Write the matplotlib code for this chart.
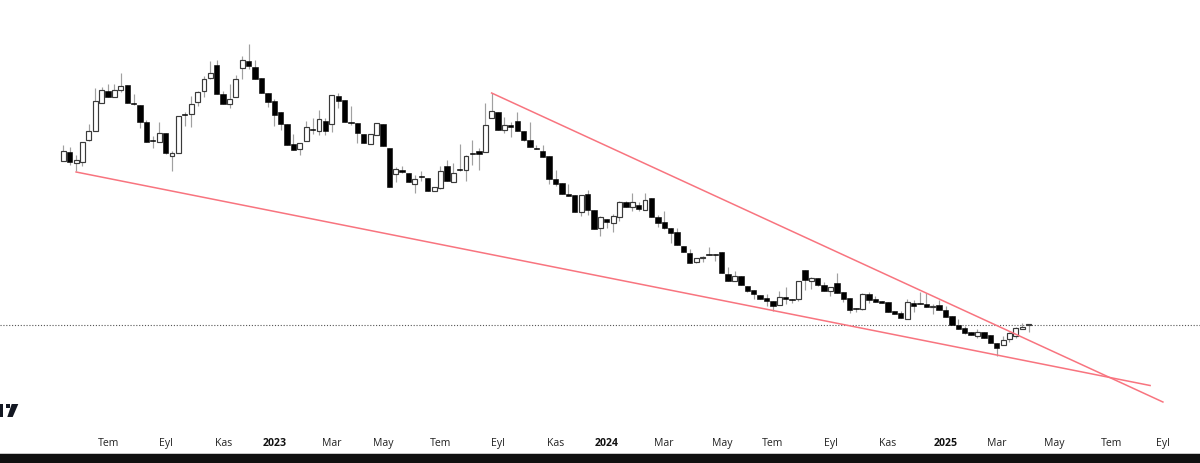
import matplotlib
matplotlib.use("Agg")
import matplotlib.pyplot as plt
from matplotlib.patches import Polygon, Rectangle, Circle
import numpy as np

opens = [301.7,310.7,299.7,300.7,322.7,331.7,360,372.3,366.3,372.7,378,360.3,358,341,323,321.3,329.7,307.3,309.7,349,
 349.3,360.7,372.3,385,398,368.7,359.3,365.7,394.7,402.3,396,385.3,369.7,361.7,351,339,318.7,313.7,321.7,334,
 332,342.3,339.3,366.7,363.3,341.3,340.3,329,319,328.3,339.3,315.3,288.7,293,290.3,279.3,287,285.3,272,275.3,
 297.3,281.3,294,292.7,310.3,312.3,311.3,345.3,351,332.7,338,342.3,331.7,323,315,311.7,307.3,283.7,280,268.7,
 268.3,250.7,268.7,253.3,234.7,244,240,246.3,260.7,256.3,258.3,253.3,264.7,246,241.3,235,230.7,217,210,200.7,
 204.7,208.7,208.7,210.7,189.3,181.7,187,177.3,172.7,167.7,164.7,161.7,157.7,165.7,163.7,164,193,181.7,184.7,178,
 172.3,180.3,171.3,164.7,154.7,153.7,168.7,164.3,162.3,161.3,152.3,149.7,144,160,160,159.3,155.7,157.7,153,147.3,
 138.3,135.5,131.3,127.3,131.5,127.7,119.7,118.3,124,127.3,134,138.3]
closes = [311.7,300.7,302.7,320.7,332.3,361.7,373,366.3,373,376.7,360,358.7,340.7,321.3,322,330,309.7,309.7,347.3,348,
 358.7,370.7,384.3,390.3,369.3,359.3,364.3,383.7,403,397.3,384.3,370,360.7,347.7,339.3,317.7,313.3,320,335.7,332.7,
 343.7,332,368,362,341.3,340.3,329.7,319.7,329.3,340.3,317,276.3,294.3,291.3,281.3,283.7,285.7,272,275.7,292.3,
 282,290,292.7,307.3,309.3,309.3,338,352.3,333.3,338,335.7,332,322.7,316.3,313.7,306,284,279,269,267,
 251.3,268,252.7,234,245.7,241.3,246.7,260.7,255.7,260.7,254,263.3,246.3,240.3,234.7,230,217.7,211.3,200.3,205.3,
 206.3,207.7,207.7,189.7,182.3,186.7,178,172,169,164,161.7,157.3,165.7,163.7,163.3,181.7,183.3,184.7,178.3,172.3,
 176.3,170,163.7,153,153.7,168.7,163.3,161.3,160.3,151.3,149,144.7,160.7,157,159,156.3,157,153,146,138.3,
 134,129.7,128,131.5,125.3,120.5,115.3,122.7,129.7,135,135.7,138.7]
highs = [318,316,308,321,339,375,376,379,379,390,378,369,358,343,327,341,330,312,347.3,351,
 367,372,387,402,403,372,379,388,407,419,403,385.3,370,364,351,339,329,320,342,345,
 353,345,368,370,363.3,357,340.3,329,329.3,340.3,339.3,315.3,296,297,290.3,288,292,285.3,275.7,297,
 303,300,319,308.3,323,315,360,370,351,346.3,341,350.7,332,341,318.3,318,307.3,293,280,279,
 268.3,268,273,253.3,247,244,249,262.3,262.3,269.7,261.3,269.7,264.7,248.3,251.7,235,234.7,217,213.7,205.3,
 207.3,216,209,210.7,195.7,192,187,177.3,173.3,167.7,169,162.3,172.3,175.7,164,182,193,185.7,185,181.3,
 176.3,189.7,171.3,164.7,155,170,170.7,166.7,162.3,161.3,152.3,152,164,163,170.7,170,159,163.3,157.3,147.3,
 144,137,131.3,134,131.5,127.7,119.7,126.7,131.3,135.7,139.7,139]
lows = [301.7,298,292,297,322,331.7,360,366,366,371,360,358,335,321,315,321,309,292,309.7,337,
 336,357,366,384,369,359,355,365.7,384,394,384,370,356,337,333,317.7,313,308,321.7,329,
 328,328,331,355,341.3,338,320,319.7,319,328.3,317,276.3,281,290,281.3,270,282,272,272,274,
 282,281.3,292,282.3,298,293.3,311.3,345,333.3,330,326.3,332,322,316,313.7,306,279,277,269,267,
 251,247.3,248,234,227.3,235.3,231,242.3,255.7,251.7,251.7,253.3,246.3,236,234,219.7,217.7,211.3,199.7,199.7,
 200.7,207.7,202.3,189.7,182.3,181.7,178,171,164,164,157.3,152.3,157.7,159,159.7,162,173.3,174,176.7,172.3,
 166.7,170,161.3,150.3,151.3,153,160,161.3,160.3,151.3,149,144.7,144,150.7,159,156.3,149,153,146,138.3,
 134,129,128,124.7,125.3,120.5,107.3,118.3,121.3,125,134,131.3]

tick_positions = [7,16,25,33,42,50,59,68,77,85,94,103,111,120,129,138,146,155,164,172]
tick_labels = ["Tem","Eyl","Kas","2023","Mar","May","Tem","Eyl","Kas","2024","Mar","May","Tem","Eyl","Kas","2025","Mar","May","Tem","Eyl"]
year_labels = {"2023","2024","2025"}

support_idx = [2, 170]
support_price = [291, 77.5]
resist_idx = [67, 172]
resist_price = [370, 61]
last_price = 138.5

W, H = 1200, 464
fig = plt.figure(figsize=(12, 4.64), dpi=100, facecolor="white")
ax = fig.add_axes([0, 32/H, 1, 432/H])
step = 6.393
x0 = 63.3
ax.set_xlim(-x0/step, (W-x0)/step)
ax.set_ylim(32, 464)

o, c, h, l = map(np.array, (opens, closes, highs, lows))
x = np.arange(len(o))
ax.vlines(x, l, h, color="#a0a0a0", lw=0.85, zorder=2)
up = c >= o
ax.bar(x[up], (c-o)[up], bottom=o[up], width=0.76, facecolor="white", edgecolor="#3a3a3a", lw=0.85, zorder=3)
ax.bar(x[~up], (o-c)[~up], bottom=c[~up], width=0.84, facecolor="black", edgecolor="black", lw=0.4, zorder=3)

ax.axhline(last_price, color="#555555", lw=0.8, ls=(0, (1, 1.6)), zorder=1)
ax.plot(support_idx, support_price, color="#f8747f", lw=1.1, zorder=4)
ax.plot(resist_idx, resist_price, color="#f8747f", lw=1.1, zorder=4)

for s in ax.spines.values():
    s.set_visible(False)
ax.set_yticks([])
ax.set_xticks(tick_positions)
ax.set_xticklabels(tick_labels, family="Open Sans", fontsize=7.6, color="#222222")
for t in ax.get_xticklabels():
    if t.get_text() in year_labels:
        t.set_fontweight("bold")
        t.set_color("#111111")
ax.tick_params(axis="x", length=0, pad=4)

# chrome: cut-off logo and bottom bar
to_fig = lambda p: [(a/W, 1-b/H) for a, b in p]
fig.add_artist(Polygon(to_fig([(0,405),(3,405),(3,418),(0,418)]), closed=True, fc="#131722", ec="none"))
fig.add_artist(Polygon(to_fig([(11.7,405),(18.3,405),(12.7,418),(7.3,418)]), closed=True, fc="#131722", ec="none"))
fig.add_artist(Polygon(to_fig([(6.3,405),(9.6,405),(9.6,409),(6.3,409)]), closed=True, fc="#131722", ec="none"))
fig.add_artist(Rectangle((0, 0), 1, 9/H, transform=fig.transFigure, fc="#101010", ec="none"))
fig.add_artist(Rectangle((0, 9/H), 1, 1/H, transform=fig.transFigure, fc="#c8c8c8", ec="none"))

fig.savefig("out.png", dpi=100)
